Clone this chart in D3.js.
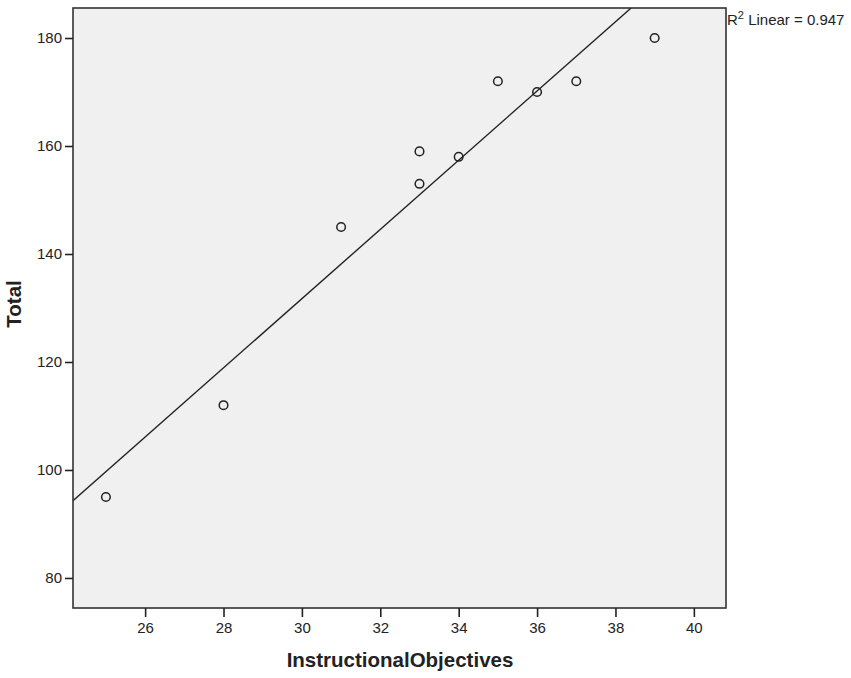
<!DOCTYPE html>
<html>
<head>
<meta charset="utf-8">
<script src="https://cdn.jsdelivr.net/npm/d3@7"></script>
<style>
  body { margin: 0; background: #fff; }
  text { font-family: "Liberation Sans", Arial, sans-serif; fill: #222; }
</style>
</head>
<body>
<svg id="chart" width="851" height="678"></svg>
<script>
// data
const objectives = [25, 28, 31, 33, 33, 34, 35, 36, 37, 39];
const totals = [95, 112, 145, 159, 153, 158, 172, 170, 172, 180];
const xTicks = [26, 28, 30, 32, 34, 36, 38, 40];
const yTicks = [80, 100, 120, 140, 160, 180];

const svg = d3.select('#chart');

// plot frame (window.top is taken, so prefixed names)
const frameL = 73, frameT = 8, frameR = 726, frameB = 608;

const x = d3.scaleLinear().domain([24.16, 40.82]).range([frameL, frameR]);
const y = d3.scaleLinear().domain([74.44, 185.56]).range([frameB, frameT]);

// least squares fit
const mx = d3.mean(objectives), my = d3.mean(totals);
let sxy = 0, sxx = 0, syy = 0;
objectives.forEach((v, i) => {
    sxy += (v - mx) * (totals[i] - my);
    sxx += (v - mx) * (v - mx);
    syy += (totals[i] - my) * (totals[i] - my);
});
const slope = sxy / sxx;
const icpt = my - slope * mx;
const r2 = (sxy * sxy) / (sxx * syy);

svg.append('defs').append('clipPath').attr('id', 'clip')
    .append('rect')
    .attr('x', frameL).attr('y', frameT)
    .attr('width', frameR - frameL).attr('height', frameB - frameT);

svg.append('rect')
    .attr('x', frameL).attr('y', frameT)
    .attr('width', frameR - frameL).attr('height', frameB - frameT)
    .attr('fill', '#f0f0f0');

// fit line, clipped to the frame
const x0 = x.domain()[0], x1 = x.domain()[1];
svg.append('line')
    .attr('clip-path', 'url(#clip)')
    .attr('x1', x(x0)).attr('y1', y(icpt + slope * x0))
    .attr('x2', x(x1)).attr('y2', y(icpt + slope * x1))
    .attr('stroke', '#222')
    .attr('stroke-width', 1.4);

svg.selectAll('circle.pt')
    .data(objectives.map((v, i) => ({ x: v, y: totals[i] })))
    .enter()
    .append('circle')
    .attr('class', 'pt')
    .attr('cx', d => x(d.x))
    .attr('cy', d => y(d.y))
    .attr('r', 4.3)
    .attr('fill', 'none')
    .attr('stroke', '#222')
    .attr('stroke-width', 1.5);

svg.append('rect')
    .attr('x', frameL).attr('y', frameT)
    .attr('width', frameR - frameL).attr('height', frameB - frameT)
    .attr('fill', 'none')
    .attr('stroke', '#333')
    .attr('stroke-width', 1.6);

// axes
const xAxis = svg.append('g')
    .attr('transform', `translate(0,${frameB})`)
    .call(d3.axisBottom(x).tickValues(xTicks).tickSize(9).tickPadding(5).tickSizeOuter(0));
const yAxis = svg.append('g')
    .attr('transform', `translate(${frameL},0)`)
    .call(d3.axisLeft(y).tickValues(yTicks).tickSize(8).tickPadding(3).tickSizeOuter(0));

[xAxis, yAxis].forEach(g => {
    g.select('.domain').remove();
    g.selectAll('.tick line').attr('stroke', '#222').attr('stroke-width', 1.6);
    g.selectAll('.tick text')
        .style('font-family', '"Liberation Sans", Arial, sans-serif')
        .style('font-size', '15px')
        .attr('fill', '#222');
});

// axis titles
svg.append('text')
    .attr('x', 400)
    .attr('y', 667)
    .attr('text-anchor', 'middle')
    .style('font-size', '20.5px')
    .style('font-weight', 'bold')
    .text('InstructionalObjectives');

svg.append('text')
    .attr('transform', 'translate(21,304) rotate(-90)')
    .attr('text-anchor', 'middle')
    .style('font-size', '20.5px')
    .style('font-weight', 'bold')
    .text('Total');

// R squared annotation
const note = svg.append('text')
    .attr('x', 727)
    .attr('y', 25)
    .style('font-size', '15px');
note.append('tspan').text('R');
note.append('tspan').attr('dy', -6).style('font-size', '11px').text('2');
note.append('tspan').attr('dy', 6).text(' Linear = ' + r2.toFixed(3));
</script>
</body>
</html>
